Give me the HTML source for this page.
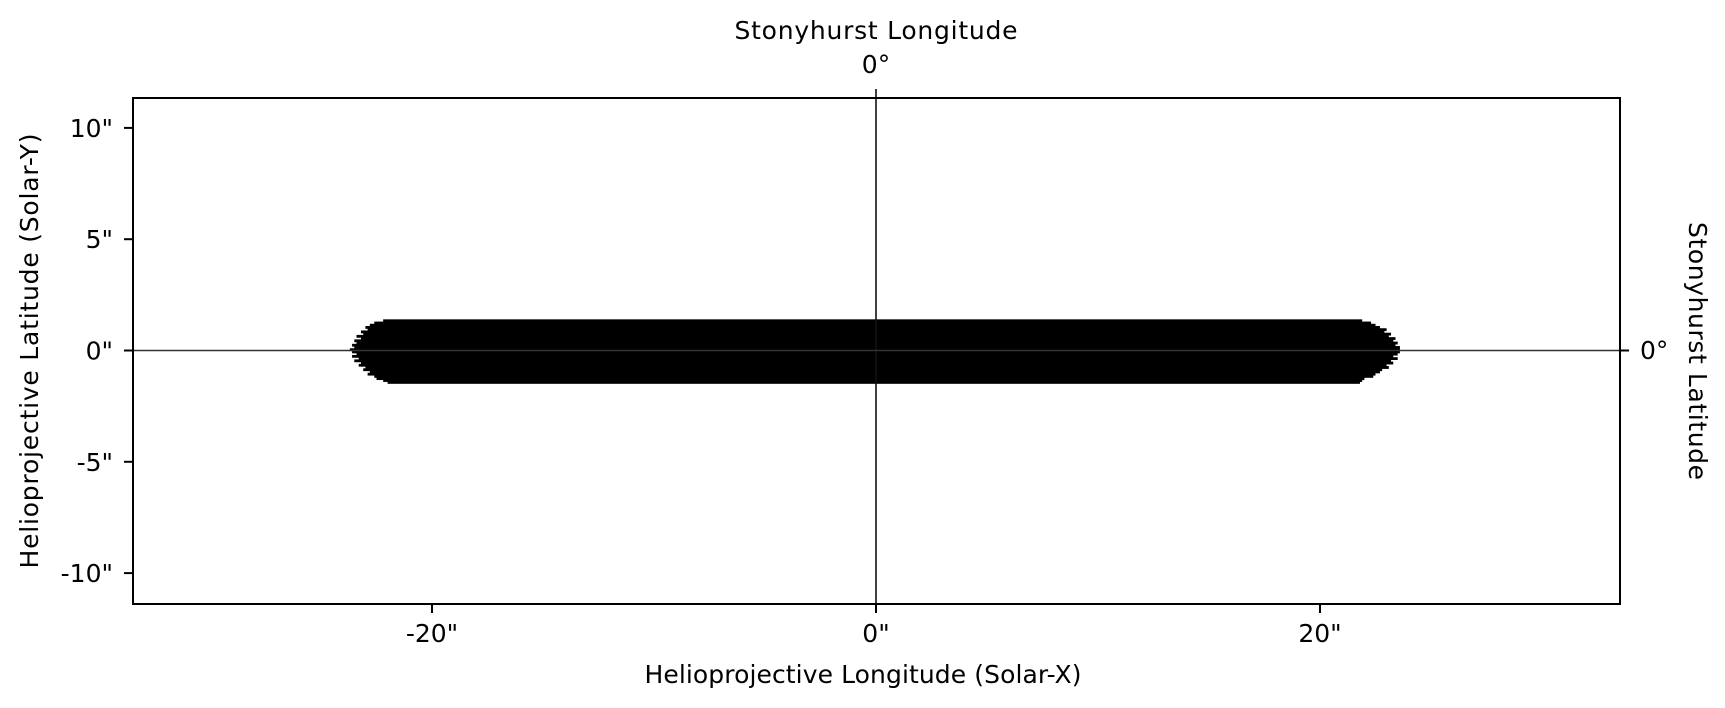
<!DOCTYPE html>
<html><head><meta charset="utf-8">
<style>
html,body{margin:0;padding:0;background:#fff;}
svg{display:block;}
text{font-family:"DejaVu Sans","Liberation Sans",sans-serif;font-size:25px;fill:#000;}
</style></head>
<body>
<svg id="chart" width="1725" height="708" viewBox="0 0 1725 708" xmlns="http://www.w3.org/2000/svg">
  <rect x="133" y="98" width="1487" height="506" fill="#fff"/>
  <g id="marks"></g>
  <line x1="876" y1="89" x2="876" y2="604" stroke="#111" stroke-width="1.6"/>
  <line x1="133" y1="350.5" x2="1629" y2="350.5" stroke="#333" stroke-width="1.6"/>
  <rect x="133" y="98" width="1487" height="506" fill="none" stroke="#000" stroke-width="2"/>
  <g id="yticks"></g>
  <g id="xticks"></g>
  <text x="876" y="39" text-anchor="middle" textLength="283">Stonyhurst Longitude</text>
  <text x="876" y="73" text-anchor="middle">0°</text>
  <text x="1640" y="359">0°</text>
  <text transform="translate(1689,351) rotate(90)" text-anchor="middle" textLength="258">Stonyhurst Latitude</text>
  <text x="863" y="683" text-anchor="middle" textLength="437">Helioprojective Longitude (Solar-X)</text>
  <text transform="translate(38,351) rotate(-90)" text-anchor="middle" textLength="435">Helioprojective Latitude (Solar-Y)</text>
</svg>
<script>
const yTicks=[10,5,0,-5,-10];
const yTickLabels=['10"','5"','0"','-5"','-10"'];
const xTicks=[-20,0,20];
const xTickLabels=['-20"','0"','20"'];
// band rows: latitude (arcsec), left extent, right extent
const rowY=[1.35,1.25,1.15,1.05,0.95,0.85,0.75,0.65,0.55,0.45,0.35,0.25,0.15,0.05,-0.05,-0.15,-0.25,-0.35,-0.45,-0.55,-0.65,-0.75,-0.85,-0.95,-1.05,-1.15,-1.25,-1.35,-1.42];
const rowXMin=[-22.2,-22.6,-22.8,-23.0,-22.9,-23.2,-23.1,-23.4,-23.2,-23.5,-23.4,-23.6,-23.5,-23.7,-23.6,-23.4,-23.6,-23.3,-23.5,-23.2,-23.3,-23.0,-23.1,-22.8,-22.9,-22.6,-22.5,-22.2,-22.0];
const rowXMax=[21.9,22.3,22.5,22.7,23.0,22.9,23.2,23.1,23.4,23.3,23.5,23.4,23.6,23.6,23.6,23.5,23.3,23.5,23.2,23.3,23.0,23.1,22.8,22.7,22.5,22.4,22.0,21.9,21.8];

const X0=876, PX=22.2, Y0=350.5, PY=22.26;
const xs=v=>X0+v*PX, ys=v=>Y0-v*PY;
const NS='http://www.w3.org/2000/svg';
function mk(tag,attrs,parent){const e=document.createElementNS(NS,tag);for(const k in attrs)e.setAttribute(k,attrs[k]);parent.appendChild(e);return e;}

const marks=document.getElementById('marks');
for(let i=0;i<rowY.length;i++){
  const yTop=i===0?rowY[0]+0.05:(rowY[i-1]+rowY[i])/2;
  const yBot=i===rowY.length-1?rowY[i]-0.05:(rowY[i]+rowY[i+1])/2;
  const r=mk('rect',{x:xs(rowXMin[i]),y:ys(yTop),width:xs(rowXMax[i])-xs(rowXMin[i]),height:ys(yBot)-ys(yTop)+0.6,fill:'#000'},marks);
  
  
}
const yg=document.getElementById('yticks');
yTicks.forEach((v,i)=>{
  const l=mk('line',{x1:124,x2:133,y1:ys(v),y2:ys(v),stroke:'#000','stroke-width':2},yg);
  
  
  const t=mk('text',{x:113,y:ys(v)+9,'text-anchor':'end'},yg);
  t.textContent=yTickLabels[i];
  
  
});
const xg=document.getElementById('xticks');
xTicks.forEach((v,i)=>{
  const l=mk('line',{x1:xs(v),x2:xs(v),y1:604,y2:613,stroke:'#000','stroke-width':2},xg);
  
  
  const t=mk('text',{x:xs(v),y:642,'text-anchor':'middle'},xg);
  t.textContent=xTickLabels[i];
  
  
});
mk('line',{x1:1620,x2:1629,y1:Y0,y2:Y0,stroke:'#000','stroke-width':2},yg);
</script>
</body></html>
